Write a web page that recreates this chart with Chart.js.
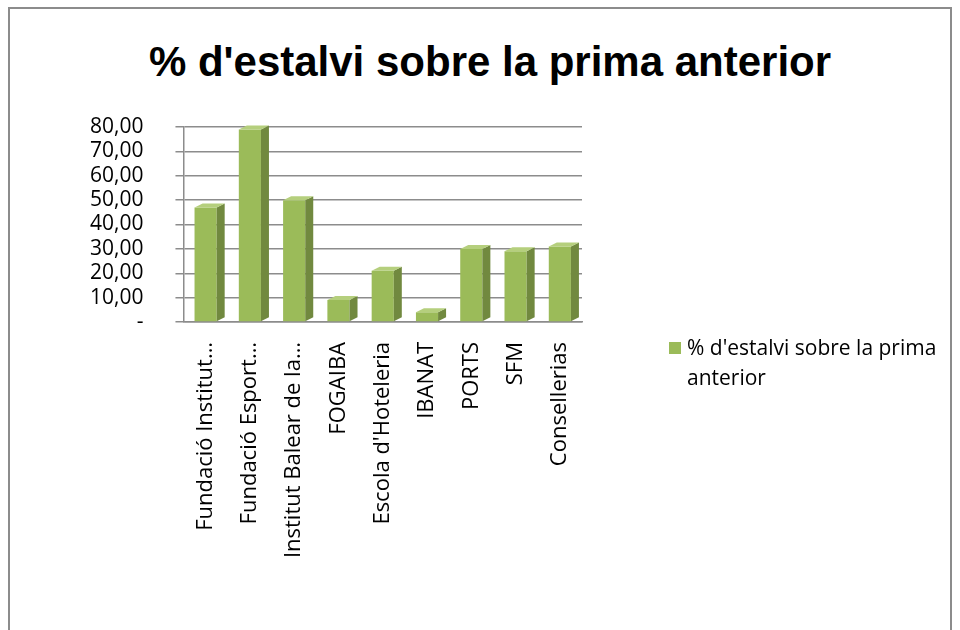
<!DOCTYPE html>
<html>
<head>
<meta charset="utf-8">
<script src="https://cdn.jsdelivr.net/npm/chart.js@4/dist/chart.umd.min.js"></script>
<style>
  html, body { margin: 0; padding: 0; background: #fff; }
  #wrap { position: relative; width: 960px; height: 630px; overflow: hidden; }
  #frame { position: absolute; left: 8px; top: 7px; width: 944px; height: 640px;
           border: 2px solid #8c8c8c; box-sizing: border-box; }
  #title { position: absolute; left: 0; top: 38px; width: 980px; text-align: center;
           font: bold 42px "Liberation Sans", Arial, sans-serif; color: #000; }
  #legend { position: absolute; left: 669px; top: 332px; width: 290px;
            font: 21px "Open Sans", "Liberation Sans", sans-serif; color: #000; line-height: 30px; }
  #legend .box { display: inline-block; width: 12px; height: 12px; background: #9bbb59;
                 margin-right: 6px; vertical-align: 1px; }
  #legend .l2 { padding-left: 18px; }
  canvas { position: absolute; left: 0; top: 0; }
</style>
</head>
<body>
<div id="wrap">
  <div id="frame"></div>
  <div id="title">% d'estalvi sobre la prima anterior</div>
  <canvas id="chart" width="960" height="630"></canvas>
  <div id="legend"><span class="box"></span>% d'estalvi sobre la prima<div class="l2">anterior</div></div>
</div>
<script>
// 데이터
const categories = [
  "Fundació Institut…", "Fundació Esport…", "Institut Balear de la…",
  "FOGAIBA", "Escola d'Hoteleria", "IBANAT", "PORTS", "SFM", "Consellerias"
];
const seriesName = "% d'estalvi sobre la prima anterior";
const savings = [47, 79, 50, 9, 21, 4, 30, 29, 31];
const yTicks = [0, 10, 20, 30, 40, 50, 60, 70, 80];

const fmt = v => v === 0 ? "-" : v.toFixed(2).replace(".", ",");

// 막대 옆면/윗면으로 입체 느낌
const bar3d = {
  id: "bar3d",
  afterDatasetsDraw(chart) {
    const ctx = chart.ctx;
    const d = 8, dy = 4;
    chart.getDatasetMeta(0).data.forEach(b => {
      const { x, y, base, width } = b.getProps(["x", "y", "base", "width"], true);
      const l = x - width / 2, r = x + width / 2;
      ctx.save();
      ctx.fillStyle = "#71893f";
      ctx.beginPath();
      ctx.moveTo(r, y); ctx.lineTo(r + d, y - dy); ctx.lineTo(r + d, base - dy); ctx.lineTo(r, base);
      ctx.closePath(); ctx.fill();
      ctx.fillStyle = "#b5cf7d";
      ctx.beginPath();
      ctx.moveTo(l, y); ctx.lineTo(l + d, y - dy); ctx.lineTo(r + d, y - dy); ctx.lineTo(r, y);
      ctx.closePath(); ctx.fill();
      ctx.restore();
    });
  }
};

const font = "'Open Sans', 'Liberation Sans', sans-serif";

new Chart(document.getElementById("chart"), {
  type: "bar",
  data: {
    labels: categories,
    datasets: [{ label: seriesName, data: savings, backgroundColor: "#9bbb59",
                 barPercentage: 0.5, categoryPercentage: 1 }]
  },
  options: {
    responsive: false, animation: false,
    layout: { padding: { left: 58, right: 378, top: 127, bottom: 50 } },
    plugins: {
      legend: { display: false },
      tooltip: { enabled: false }
    },
    scales: {
      y: {
        min: 0, max: 80,
        afterBuildTicks: ax => { ax.ticks = yTicks.map(v => ({ value: v })); },
        ticks: { callback: v => fmt(v), color: "#000", font: { family: font, size: 21 }, padding: 32, autoSkip: false },
        grid: { color: "#8c8c8c", lineWidth: 1.5, tickLength: 8 },
        border: { color: "#8c8c8c", width: 1.5 }
      },
      x: {
        afterFit: ax => { ax.height = 258; },
        ticks: { color: "#000", font: { family: font, size: 22 }, minRotation: 90, maxRotation: 90, autoSkip: false, padding: 12 },
        grid: { display: false },
        border: { color: "#8c8c8c", width: 1.5 }
      }
    }
  },
  plugins: [bar3d]
});
</script>
</body>
</html>
